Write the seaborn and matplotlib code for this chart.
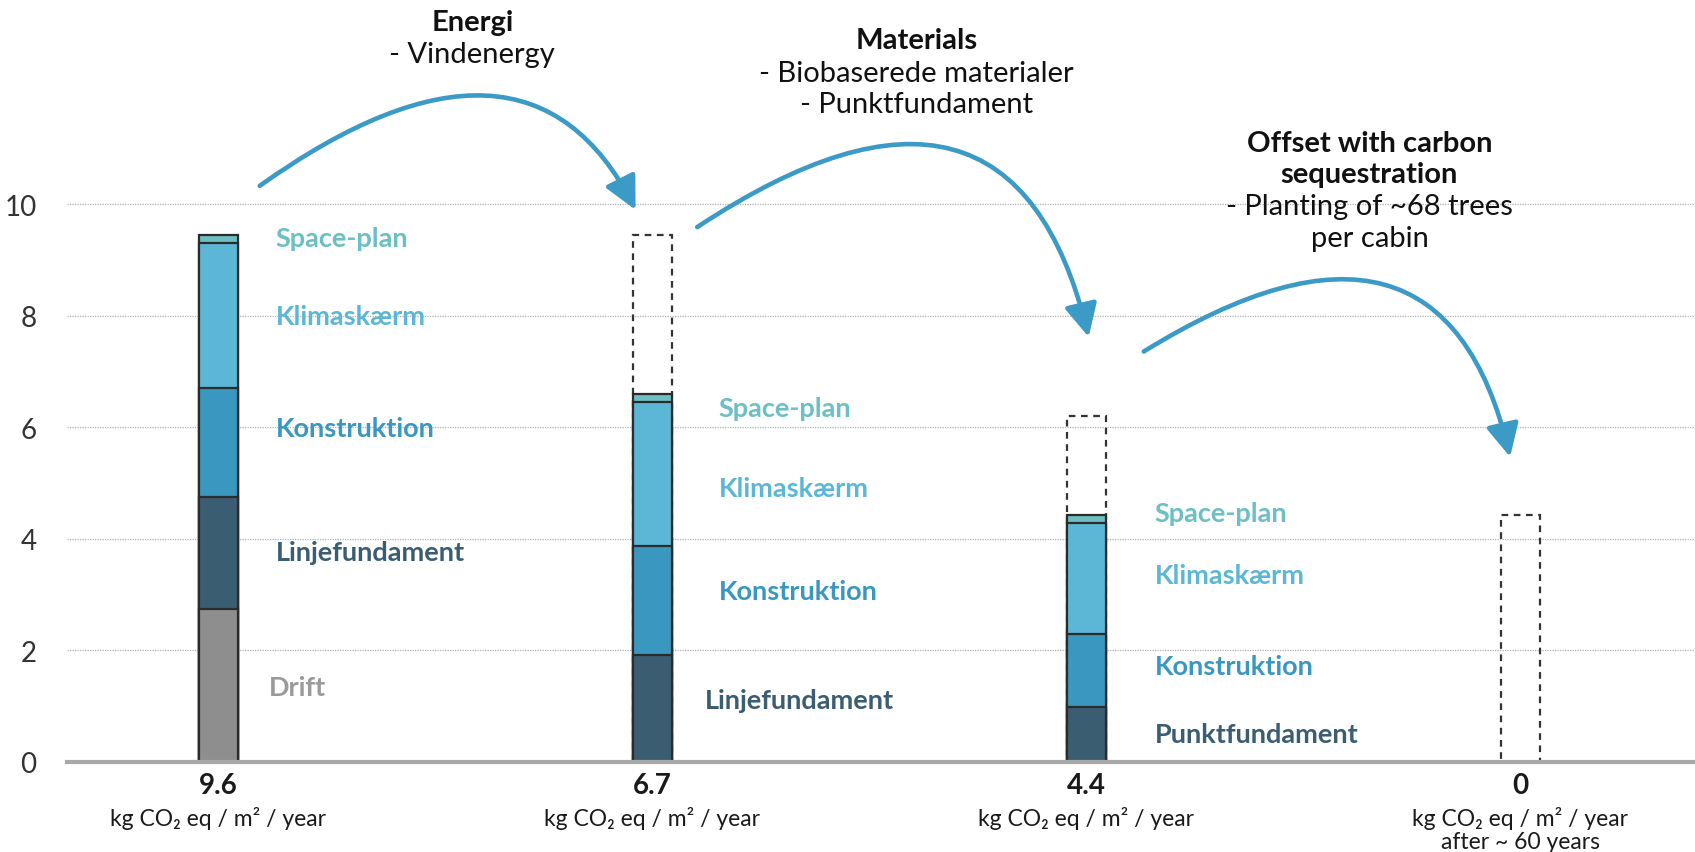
## Carbon reduction steps - stacked bars with arrows
import numpy as np
import pandas as pd
import matplotlib
matplotlib.use("Agg")
import matplotlib.pyplot as plt
from matplotlib.patches import FancyArrowPatch
from matplotlib.path import Path
import seaborn as sns

## Data
stages = ["Nuværende", "Energi", "Materials", "Offset"]
stage_totals = ["9.6", "6.7", "4.4", "0"]
drift = [2.75, 0.0, 0.0, 0.0]
fundament = [2.00, 1.92, 0.99, 0.0]
konstruktion = [1.96, 1.95, 1.31, 0.0]
klimaskaerm = [2.59, 2.58, 1.99, 0.0]
space_plan = [0.14, 0.14, 0.14, 0.0]
previous_total = [np.nan, 9.44, 6.21, 4.42]
fundament_names = ["Linjefundament", "Linjefundament", "Punktfundament", None]

layers = ["Drift", "Fundament", "Konstruktion", "Klimaskærm", "Space-plan"]
colors = {"Drift": "#8E8E8E", "Fundament": "#3B5D72", "Konstruktion": "#3A97C0",
          "Klimaskærm": "#5BB7D5", "Space-plan": "#6CBFC2"}
arrow_col = "#3B9AC6"

df = pd.DataFrame({"stage": stages, "Drift": drift, "Fundament": fundament,
                   "Konstruktion": konstruktion, "Klimaskærm": klimaskaerm,
                   "Space-plan": space_plan, "prev": previous_total})

sns.set_style("white")
plt.rcParams["font.family"] = ["Lato", "DejaVu Sans"]

fig = plt.figure(figsize=(16.95, 8.53), dpi=100)
ax = fig.add_axes([67 / 1695, 1 - 763 / 853, 1 - 67 / 1695, 763 / 853])

W = 0.09
## dashed outline of the previous step
dash = df.dropna(subset=["prev"])
sns.barplot(data=dash, x="stage", y="prev", order=stages, ax=ax, width=W,
            fill=False, color="#333333", linestyle=(0, (3, 2.5)), linewidth=1.6,
            errorbar=None)

## stacked bars, drawn as cumulative sums from the top down
cum = df[layers].cumsum(axis=1)
for layer in layers[::-1]:
    sub = pd.DataFrame({"stage": df["stage"], "h": cum[layer], "v": df[layer]})
    sub = sub[sub["v"] > 0]
    sns.barplot(data=sub, x="stage", y="h", order=stages, ax=ax, width=W,
                color=colors[layer], saturation=1, edgecolor="#2B2B2B",
                linewidth=1.6, errorbar=None)

ax.set_xlim(-0.348, 3.403)
ax.set_ylim(0, 13.68)
ax.set_yticks([0, 2, 4, 6, 8, 10])
ax.set_yticklabels(["0", "2", "4", "6", "8", "10"], fontsize=20, color="#333333")
ax.tick_params(axis="y", length=0, pad=22)
ax.set_xticks([])
ax.set_xlabel("")
ax.set_ylabel("")
ax.yaxis.grid(True, linestyle=(0, (1, 1)), color="#B0B0B0", linewidth=0.9)
ax.set_axisbelow(True)
for s in ["top", "right", "left"]:
    ax.spines[s].set_visible(False)
ax.spines["bottom"].set_color("#A8A8A8")
ax.spines["bottom"].set_linewidth(3)

## segment labels
lab = dict(fontsize=19.5, fontweight="bold", ha="left", va="center")
seg_labels = [
    (0.133, 9.40, "Space-plan", "Space-plan"),
    (0.133, 8.00, "Klimaskærm", "Klimaskærm"),
    (0.133, 5.99, "Konstruktion", "Konstruktion"),
    (0.133, 3.76, fundament_names[0], "Fundament"),
    (0.118, 1.34, "Drift", "Drift"),
    (1.154, 6.34, "Space-plan", "Space-plan"),
    (1.154, 4.92, "Klimaskærm", "Klimaskærm"),
    (1.154, 3.06, "Konstruktion", "Konstruktion"),
    (1.122, 1.12, fundament_names[1], "Fundament"),
    (2.158, 4.46, "Space-plan", "Space-plan"),
    (2.158, 3.35, "Klimaskærm", "Klimaskærm"),
    (2.158, 1.72, "Konstruktion", "Konstruktion"),
    (2.158, 0.50, fundament_names[2], "Fundament"),
]
for x, y, txt, layer in seg_labels:
    c = "#9A9A9A" if layer == "Drift" else colors[layer]
    ax.text(x, y, txt, color=c, **lab)

## values under the bars
for i, v in enumerate(stage_totals):
    ax.text(i, -0.41, v, ha="center", va="center", fontsize=20,
            fontweight="bold", color="#1A1A1A", clip_on=False)
    ax.text(i, -0.99, "kg CO₂ eq / m² / year", ha="center", va="center",
            fontsize=16.5, color="#1A1A1A", clip_on=False)
ax.text(3, -1.43, "after ~ 60 years", ha="center", va="center",
        fontsize=16.5, color="#1A1A1A", clip_on=False)

## step descriptions
top = dict(ha="center", va="center", fontsize=21, color="#111111")
ax.text(0.586, 13.26, "Energi", fontweight="bold", **top)
ax.text(0.586, 12.69, "- Vindenergy", **top)
ax.text(1.610, 12.95, "Materials", fontweight="bold", **top)
ax.text(1.610, 12.36, "- Biobaserede materialer", **top)
ax.text(1.610, 11.80, "- Punktfundament", **top)
ax.text(2.653, 11.10, "Offset with carbon", fontweight="bold", **top)
ax.text(2.653, 10.54, "sequestration", fontweight="bold", **top)
ax.text(2.653, 9.96, "- Planting of ~68 trees", **top)
ax.text(2.653, 9.40, "per cabin", **top)

## curved arrows between the steps
arrows = [
    [(0.096, 10.33), (0.711, 13.74), (0.962, 9.90)],
    [(1.104, 9.59), (1.829, 13.32), (2.006, 7.62)],
    [(2.133, 7.36), (2.820, 10.66), (2.977, 5.47)],
]
for pts in arrows:
    p = Path(pts, [Path.MOVETO, Path.CURVE3, Path.CURVE3])
    arr = FancyArrowPatch(path=p, arrowstyle="-|>,head_length=1.0,head_width=0.5",
                          mutation_scale=20, color=arrow_col, lw=3.3,
                          clip_on=False)
    ax.add_patch(arr)

fig.savefig("out.png", dpi=100)
